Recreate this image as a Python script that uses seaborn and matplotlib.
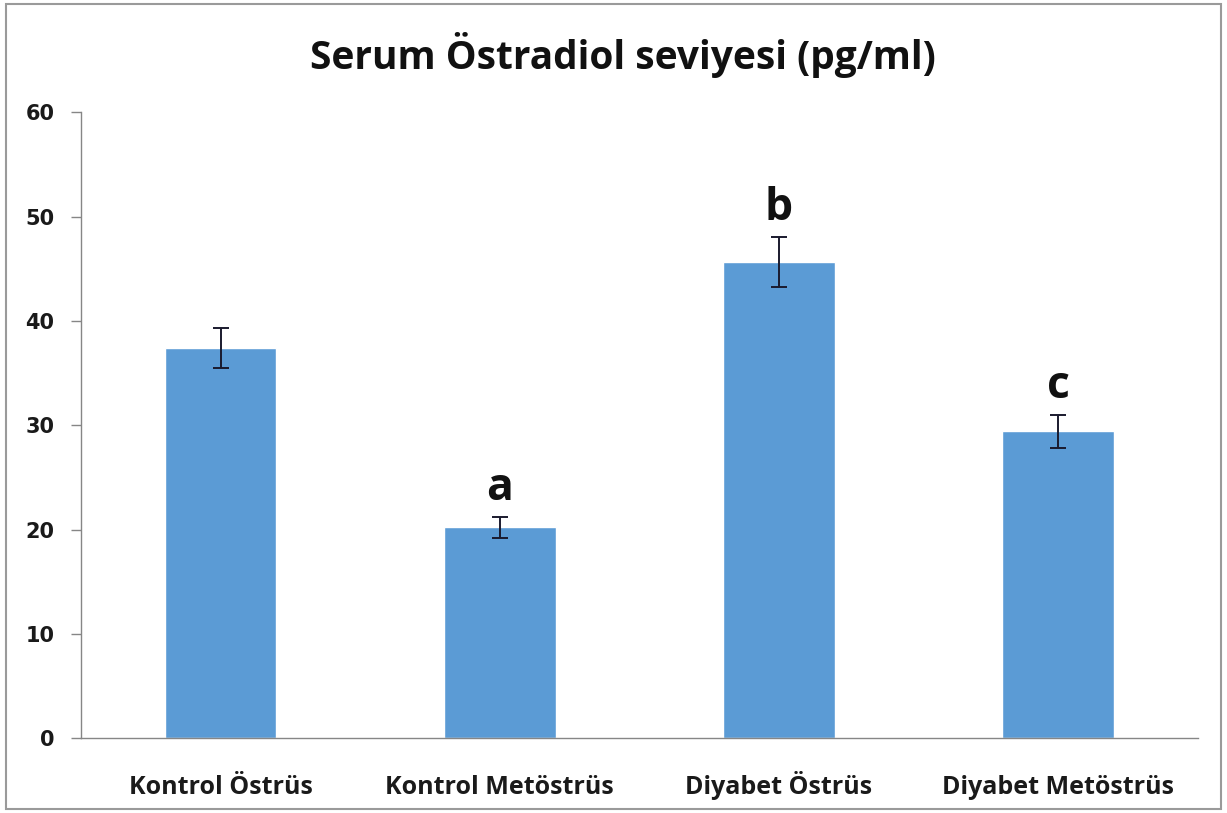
import numpy as np
import pandas as pd
import matplotlib
matplotlib.use("Agg")
import matplotlib.pyplot as plt
import seaborn as sns
from matplotlib.patches import Rectangle

groups = ["Kontrol Östrüs", "Kontrol Metöstrüs", "Diyabet Östrüs", "Diyabet Metöstrüs"]
means = [37.4, 20.2, 45.6, 29.4]
errors = [1.9, 1.0, 2.4, 1.6]
letters = ["", "a", "b", "c"]

df = pd.DataFrame({"group": groups, "value": means})

sns.set_style("white")
plt.rcParams['font.family'] = ['Open Sans', 'DejaVu Sans']

fig = plt.figure(figsize=(12.27, 8.13), dpi=100)
ax = fig.add_axes([0.066, 0.092, 0.910, 0.770])

sns.barplot(data=df, x="group", y="value", color="#5B9BD5", saturation=1,
            width=0.4, ax=ax, errorbar=None)
ax.errorbar(range(len(groups)), means, yerr=errors, fmt="none",
            ecolor="#1a1a2e", elinewidth=1.4, capsize=6, capthick=1.4)

for i, (m, e, t) in enumerate(zip(means, errors, letters)):
    if t:
        ax.text(i, m + e + 0.6, t, ha="center", va="bottom", fontsize=32,
                fontweight="bold", color="#111111")

ax.set_xlim(-0.5, len(groups) - 0.5)
ax.set_ylim(0, 60)
ax.set_yticks(range(0, 61, 10))
ax.set_yticklabels([str(v) for v in range(0, 61, 10)], fontsize=15,
                   fontweight="bold", family="DejaVu Sans", color="#1a1a1a")
ax.set_xticks(range(len(groups)))
ax.set_xticklabels(groups, fontsize=18, fontweight="bold", color="#1a1a1a")
for lab in ax.get_xticklabels():
    lab.set_va("baseline")
ax.tick_params(axis="x", length=0, pad=40)
ax.set_xticks(np.arange(0.5, len(groups), 1.0), minor=True)
ax.tick_params(axis="x", which="minor", length=8, color="#868686", width=1)
ax.tick_params(axis="y", length=7, color="#868686", width=1, pad=12, left=True)
ax.set_xlabel("")
ax.set_ylabel("")
sns.despine(ax=ax)
for s in ["left", "bottom"]:
    ax.spines[s].set_color("#868686")
    ax.spines[s].set_linewidth(1)

fig.text(0.508, 0.932, "Serum Östradiol seviyesi (pg/ml)", ha="center", va="center",
         fontsize=28, fontweight="bold", color="#111111")

fig.patches.append(Rectangle((0.005, 0.005), 0.99, 0.99, transform=fig.transFigure,
                             fill=False, edgecolor="#9a9a9a", linewidth=1.5))

fig.savefig("out.png", dpi=100)
